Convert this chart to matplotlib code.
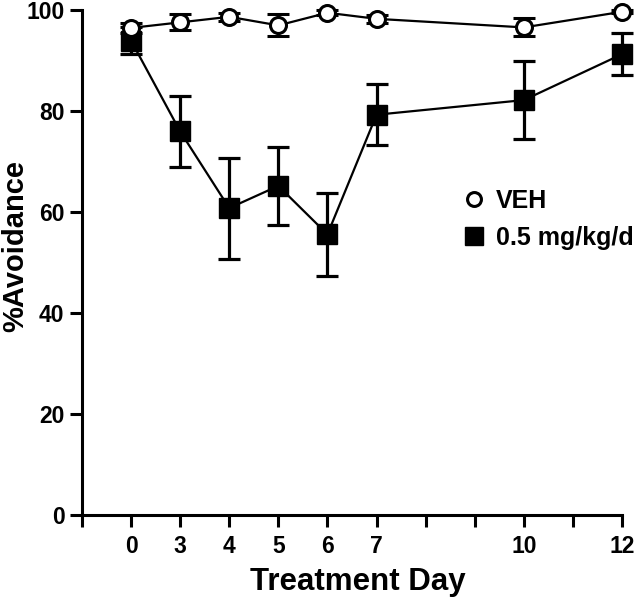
import numpy as np
import matplotlib.pyplot as plt
from matplotlib.lines import Line2D

plt.rcParams['font.family'] = ['Liberation Sans', 'DejaVu Sans']
plt.rcParams['font.weight'] = 'bold'
plt.rcParams['axes.labelweight'] = 'bold'

# data
days = [0, 3, 4, 5, 6, 7, 10, 12]
veh_mean = [96.5, 97.6, 98.7, 97.0, 99.5, 98.3, 96.6, 99.7]
veh_err = [1.0, 1.6, 0.8, 2.2, 0.5, 0.8, 1.8, 0.3]
drug_mean = [94.0, 76.0, 60.8, 65.2, 55.6, 79.3, 82.2, 91.3]
drug_err = [2.6, 7.0, 10.0, 7.8, 8.2, 6.0, 7.8, 4.2]

tick_days = [None, 0, 3, 4, 5, 6, 7, None, None, 10, None, 12]


def day_pos(d):
    # day 0 sits one slot left of day 3, the rest is linear
    return 2 if d == 0 else d


x = np.array([day_pos(d) for d in days])

fig = plt.figure(figsize=(6.4, 6.03), dpi=100)
ax = fig.add_axes([0.128, 0.146, 0.844, 0.837])

ax.errorbar(x, drug_mean, yerr=drug_err, color='black', marker='s', ms=14,
            mfc='black', mec='black', lw=1.6, elinewidth=2.3, capsize=8,
            capthick=2.3, clip_on=False, zorder=3)
ax.errorbar(x, veh_mean, yerr=veh_err, color='black', marker='o', ms=11.5,
            mfc='white', mec='black', mew=2.2, lw=1.6, elinewidth=2.3,
            capsize=8, capthick=2.3, clip_on=False, zorder=4)

ax.set_xlim(1, 12)
ax.set_ylim(0, 100)
ax.set_xticks(range(1, 13))
ax.set_xticklabels(['' if d is None else str(d) for d in tick_days])
ax.set_yticks([0, 20, 40, 60, 80, 100])

for s in ['top', 'right']:
    ax.spines[s].set_visible(False)
for s in ['left', 'bottom']:
    ax.spines[s].set_linewidth(2.2)
ax.tick_params(width=2.2, length=8.5, labelsize=16.5, direction='out')
ax.tick_params(axis='x', pad=6)
ax.tick_params(axis='y', pad=4)

ax.set_xlabel('Treatment Day', fontsize=22.5)
ax.set_ylabel('%Avoidance', fontsize=21)
ax.xaxis.set_label_coords(0.511, -0.103)
ax.yaxis.set_label_coords(-0.097, 0.533)

handles = [
    Line2D([], [], ls='none', marker='o', ms=10, mfc='white', mec='black', mew=2.2),
    Line2D([], [], ls='none', marker='s', ms=13, mfc='black', mec='black'),
]
ax.legend(handles, ['VEH', '0.5 mg/kg/d'], loc='upper left',
          bbox_to_anchor=(0.665, 0.69), frameon=False, fontsize=18,
          handlelength=0.8, handletextpad=0.5, labelspacing=0.5)

fig.savefig('out.png', dpi=100)
